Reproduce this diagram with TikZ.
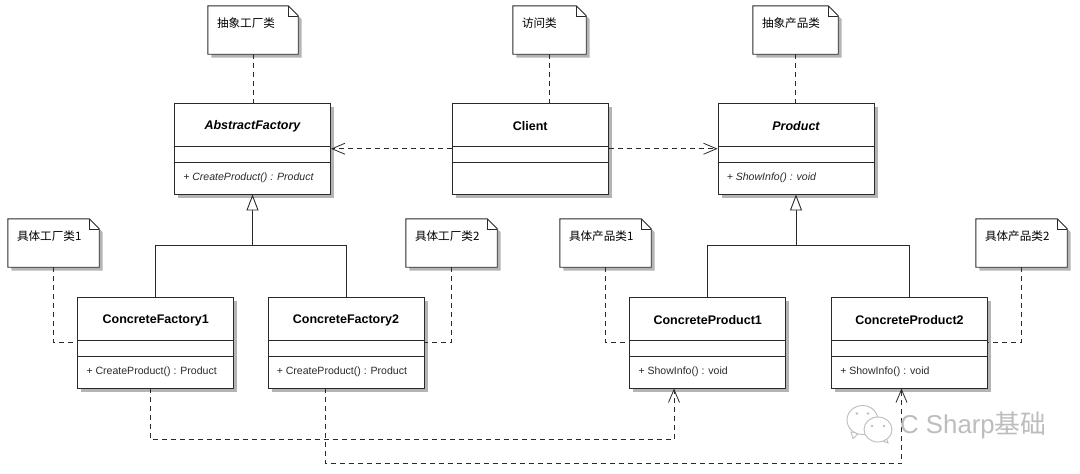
\documentclass[tikz,border=0pt]{standalone}
\usepackage{fontspec}
\setmainfont{Liberation Sans}
\newfontfamily\cjkfont{Noto Sans CJK SC}
\usetikzlibrary{arrows.meta,shadows,calc}
\definecolor{inkc}{HTML}{2A2A2A}
\definecolor{shadowc}{HTML}{B4B4B4}
\definecolor{wmc}{HTML}{BDBDBD}
\tikzset{
  classbox/.style={draw=inkc,fill=white,line width=0.9pt,minimum width=156pt,minimum height=90.5pt,inner sep=0pt,
    general shadow={fill=shadowc,shadow xshift=3.5pt,shadow yshift=-3.5pt}},
  classtitle/.style={font=\fontsize{12.5}{14}\selectfont\bfseries,text=black,inner sep=0pt},
  classop/.style={font=\fontsize{10.55}{12}\selectfont,text=inkc,anchor=west,inner sep=0pt},
  notebox/.style={minimum width=91pt,minimum height=48pt,inner sep=0pt},
  notetext/.style={font=\cjkfont\fontsize{11.6}{13}\selectfont,text=black,anchor=west,inner sep=0pt},
  noteline/.style={draw=inkc,line width=0.9pt,line join=miter},
  divider/.style={draw=inkc,line width=0.9pt},
  dep/.style={draw=inkc,line width=0.8pt,dash pattern=on 5pt off 4pt},
  depend/.style={dep,-{Straight Barb[length=13pt,width=11pt,line width=0.8pt]}},
  gen/.style={draw=inkc,line width=0.9pt,-{Triangle[open,length=16pt,width=12pt,fill=white,line width=0.9pt]}},
  genline/.style={draw=inkc,line width=0.9pt},
}
% name, centre x, top y, title
\newcommand{\umlclass}[4]{%
  \node[classbox] (#1) at (#2,#3+45.25) {};
  \node[classtitle] (#1-t) at (#2,#3+22.5) {#4};
  \draw[divider] ([yshift=-43.5pt]#1.north west) -- ([yshift=-43.5pt]#1.north east);
  \draw[divider] ([yshift=-59pt]#1.north west) -- ([yshift=-59pt]#1.north east);
}
% name, text
\newcommand{\umlop}[2]{%
  \node[classop] (#1-o) at ([shift={(9,75)}]#1.north west) {#2};
}
% name, left x, top y, width, text
\newcommand{\umlnote}[5]{%
  \node[notebox,minimum width=#4pt] (#1) at (#2+#4/2,#3+24) {};
  \fill[shadowc] ([shift={(3.5,3.5)}]#1.south west) -- ([shift={(3.5,3.5)}]#1.south east) -- ([shift={(3.5,13.5)}]#1.north east) -- ([shift={(-6.5,3.5)}]#1.north east) -- ([shift={(3.5,3.5)}]#1.north west) -- cycle;
  \filldraw[noteline,fill=white] (#1.north west) -- ([xshift=-10pt]#1.north east) -- ([yshift=-10pt]#1.north east) -- (#1.south east) -- (#1.south west) -- cycle;
  \draw[noteline,line width=0.6pt] ([xshift=-10pt]#1.north east) -- ([shift={(-10,10)}]#1.north east) -- ([yshift=-10pt]#1.north east);
  \node[notetext] (#1-t) at ([shift={(9,17)}]#1.north west) {#5};
}
\begin{document}
\begin{tikzpicture}[x=1pt,y=-1pt]
\useasboundingbox[fill=white] (0,0) rectangle (1080,474);

\umlclass{af}{252.5}{103.5}{\itshape AbstractFactory}
\umlop{af}{\itshape + CreateProduct() : Product}
\umlclass{cl}{530.25}{103.5}{Client}
\umlclass{pr}{796}{103.5}{\itshape Product}
\umlop{pr}{\itshape + ShowInfo() : void}
\umlclass{cf1}{155.75}{297.5}{ConcreteFactory1}
\umlop{cf1}{+ CreateProduct() : Product}
\umlclass{cf2}{346}{297.5}{ConcreteFactory2}
\umlop{cf2}{+ CreateProduct() : Product}
\umlclass{cp1}{707.75}{297.5}{ConcreteProduct1}
\umlop{cp1}{+ ShowInfo() : void}
\umlclass{cp2}{909.5}{297.5}{ConcreteProduct2}
\umlop{cp2}{+ ShowInfo() : void}

\umlnote{n1}{208}{6}{90}{抽象工厂类}
\umlnote{n2}{513}{6}{73}{访问类}
\umlnote{n3}{753}{6}{85}{抽象产品类}
\umlnote{n4}{8}{219}{91}{具体工厂类1}
\umlnote{n5}{406}{219}{91}{具体工厂类2}
\umlnote{n6}{560}{219}{91}{具体产品类1}
\umlnote{n7}{976}{219}{91}{具体产品类2}

% note links
\draw[dep] (n1.south) -- (n1.south |- af.north);
\draw[dep] (n2.south) -- (n2.south |- cl.north);
\draw[dep] (n3.south) -- (n3.south |- pr.north);
\draw[dep] (n4.south) |- (cf1.west);
\draw[dep] (n5.south) |- (cf2.east);
\draw[dep] (n6.south) |- (cp1.west);
\draw[dep] (n7.south) |- (cp2.east);

% dependencies from client
\draw[depend] (cl.west) -- (af.east);
\draw[depend] (cl.east) -- (pr.west);

% generalisations
\coordinate (hubf) at (252.5,245.5);
\coordinate (hubp) at (796,245.5);
\draw[gen] (hubf) -- (af.south);
\draw[genline] (cf1.north) |- (hubf) -| (cf2.north);
\draw[gen] (hubp) -- (pr.south);
\draw[genline] (cp1.north) |- (hubp) -| (cp2.north);

% factory to product dependencies
\coordinate (a1) at (150,388);
\coordinate (a2) at (150,439.5);
\coordinate (a3) at (674,439.5);
\coordinate (a4) at (674,388.5);
\coordinate (b1) at (325,388);
\coordinate (b2) at (325,463.5);
\coordinate (b3) at (901.5,463.5);
\coordinate (b4) at (901.5,388.5);
\draw[depend] (a1) -- (a2) -- (a3) -- (a4);
\draw[depend] (b1) -- (b2) -- (b3) -- (b4);

% watermark
\begin{scope}[draw=wmc,line width=0.9pt,fill=white]
\filldraw (851,432) -- (853,438.5) -- (859,433) -- cycle;
\filldraw (862.5,420) ellipse [x radius=15.5,y radius=14.5];
\filldraw (886,437) -- (888,443) -- (880,440) -- cycle;
\filldraw (878,429.5) ellipse [x radius=14,y radius=12.5];
\fill[wmc] (857,413.5) circle (1.3) (868,413.5) circle (1.3) (872,426) circle (1.3) (884,426) circle (1.3);
\end{scope}
\node[font=\fontsize{25.8}{28}\selectfont,text=wmc,anchor=west,inner sep=0pt] (wm) at (900,425) {C Sharp{\cjkfont 基础}};
\end{tikzpicture}
\end{document}
